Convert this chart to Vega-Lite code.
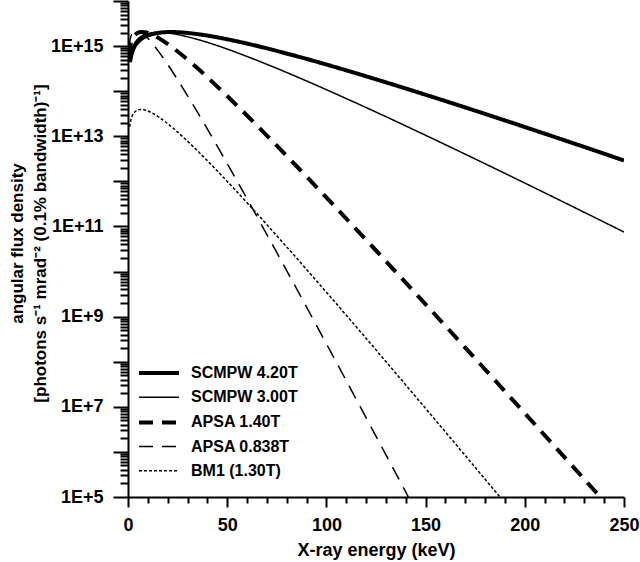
{
  "$schema": "https://vega.github.io/schema/vega-lite/v6.json",
  "width": 496,
  "height": 496,
  "autosize": {"type": "none"},
  "padding": {"left": 128, "top": 1, "right": 16, "bottom": 65},
  "background": "white",
  "config": {"view": {"stroke": null}, "font": "Liberation Sans"},
  "data": {"values": [
    {"s": "SCMPW 4.20T", "E": 1, "F": 4.43e14},
    {"s": "SCMPW 4.20T", "E": 2, "F": 7.03e14},
    {"s": "SCMPW 4.20T", "E": 3, "F": 9.23e14},
    {"s": "SCMPW 4.20T", "E": 5, "F": 1.227e15},
    {"s": "SCMPW 4.20T", "E": 8, "F": 1.56e15},
    {"s": "SCMPW 4.20T", "E": 12, "F": 1.832e15},
    {"s": "SCMPW 4.20T", "E": 16, "F": 1.981e15},
    {"s": "SCMPW 4.20T", "E": 21, "F": 2.051e15},
    {"s": "SCMPW 4.20T", "E": 26, "F": 2.023e15},
    {"s": "SCMPW 4.20T", "E": 31, "F": 1.936e15},
    {"s": "SCMPW 4.20T", "E": 39, "F": 1.738e15},
    {"s": "SCMPW 4.20T", "E": 52, "F": 1.358e15},
    {"s": "SCMPW 4.20T", "E": 65, "F": 1.009e15},
    {"s": "SCMPW 4.20T", "E": 78, "F": 7.21e14},
    {"s": "SCMPW 4.20T", "E": 91, "F": 5.05e14},
    {"s": "SCMPW 4.20T", "E": 104, "F": 3.47e14},
    {"s": "SCMPW 4.20T", "E": 130, "F": 1.57e14},
    {"s": "SCMPW 4.20T", "E": 156, "F": 6.87e13},
    {"s": "SCMPW 4.20T", "E": 182, "F": 2.93e13},
    {"s": "SCMPW 4.20T", "E": 208, "F": 1.225e13},
    {"s": "SCMPW 4.20T", "E": 234, "F": 5.05e12},
    {"s": "SCMPW 4.20T", "E": 250, "F": 2.9e12},
    {"s": "SCMPW 3.00T", "E": 1, "F": 5.48e14},
    {"s": "SCMPW 3.00T", "E": 2, "F": 8.69e14},
    {"s": "SCMPW 3.00T", "E": 3, "F": 1.094e15},
    {"s": "SCMPW 3.00T", "E": 5, "F": 1.443e15},
    {"s": "SCMPW 3.00T", "E": 8, "F": 1.766e15},
    {"s": "SCMPW 3.00T", "E": 11, "F": 1.936e15},
    {"s": "SCMPW 3.00T", "E": 15, "F": 2.014e15},
    {"s": "SCMPW 3.00T", "E": 18.4, "F": 1.986e15},
    {"s": "SCMPW 3.00T", "E": 22, "F": 1.901e15},
    {"s": "SCMPW 3.00T", "E": 27.6, "F": 1.706e15},
    {"s": "SCMPW 3.00T", "E": 36.8, "F": 1.334e15},
    {"s": "SCMPW 3.00T", "E": 46, "F": 9.91e14},
    {"s": "SCMPW 3.00T", "E": 55.2, "F": 7.08e14},
    {"s": "SCMPW 3.00T", "E": 64.4, "F": 4.95e14},
    {"s": "SCMPW 3.00T", "E": 73.6, "F": 3.4e14},
    {"s": "SCMPW 3.00T", "E": 92, "F": 1.542e14},
    {"s": "SCMPW 3.00T", "E": 110.4, "F": 6.74e13},
    {"s": "SCMPW 3.00T", "E": 128.8, "F": 2.88e13},
    {"s": "SCMPW 3.00T", "E": 147.2, "F": 1.202e13},
    {"s": "SCMPW 3.00T", "E": 184, "F": 2.018e12},
    {"s": "SCMPW 3.00T", "E": 220.8, "F": 3.26e11},
    {"s": "SCMPW 3.00T", "E": 250, "F": 7.52e10},
    {"s": "APSA 1.40T", "E": 0.5, "F": 5.86e14},
    {"s": "APSA 1.40T", "E": 1, "F": 9.31e14},
    {"s": "APSA 1.40T", "E": 1.71, "F": 1.256e15},
    {"s": "APSA 1.40T", "E": 2.565, "F": 1.545e15},
    {"s": "APSA 1.40T", "E": 3.42, "F": 1.746e15},
    {"s": "APSA 1.40T", "E": 4.275, "F": 1.883e15},
    {"s": "APSA 1.40T", "E": 5.13, "F": 1.977e15},
    {"s": "APSA 1.40T", "E": 7.1, "F": 2.051e15},
    {"s": "APSA 1.40T", "E": 8.55, "F": 2.023e15},
    {"s": "APSA 1.40T", "E": 12.825, "F": 1.738e15},
    {"s": "APSA 1.40T", "E": 17.1, "F": 1.358e15},
    {"s": "APSA 1.40T", "E": 21.375, "F": 1.009e15},
    {"s": "APSA 1.40T", "E": 25.65, "F": 7.21e14},
    {"s": "APSA 1.40T", "E": 34.2, "F": 3.47e14},
    {"s": "APSA 1.40T", "E": 42.75, "F": 1.57e14},
    {"s": "APSA 1.40T", "E": 51.3, "F": 6.87e13},
    {"s": "APSA 1.40T", "E": 68.4, "F": 1.225e13},
    {"s": "APSA 1.40T", "E": 85.5, "F": 2.056e12},
    {"s": "APSA 1.40T", "E": 102.6, "F": 3.32e11},
    {"s": "APSA 1.40T", "E": 128.25, "F": 2.051e10},
    {"s": "APSA 1.40T", "E": 171, "F": 1.832e8},
    {"s": "APSA 1.40T", "E": 213.75, "F": 1.538e6},
    {"s": "APSA 1.40T", "E": 256.5, "F": 1.242e4},
    {"s": "APSA 0.838T", "E": 0.5, "F": 9.06e14},
    {"s": "APSA 0.838T", "E": 1.012, "F": 1.368e15},
    {"s": "APSA 0.838T", "E": 1.518, "F": 1.682e15},
    {"s": "APSA 0.838T", "E": 2.024, "F": 1.901e15},
    {"s": "APSA 0.838T", "E": 3.036, "F": 2.152e15},
    {"s": "APSA 0.838T", "E": 4.2, "F": 2.234e15},
    {"s": "APSA 0.838T", "E": 5.06, "F": 2.203e15},
    {"s": "APSA 0.838T", "E": 7.59, "F": 1.892e15},
    {"s": "APSA 0.838T", "E": 10.12, "F": 1.479e15},
    {"s": "APSA 0.838T", "E": 12.65, "F": 1.099e15},
    {"s": "APSA 0.838T", "E": 15.18, "F": 7.85e14},
    {"s": "APSA 0.838T", "E": 20.24, "F": 3.78e14},
    {"s": "APSA 0.838T", "E": 25.3, "F": 1.71e14},
    {"s": "APSA 0.838T", "E": 30.36, "F": 7.48e13},
    {"s": "APSA 0.838T", "E": 40.48, "F": 1.334e13},
    {"s": "APSA 0.838T", "E": 50.6, "F": 2.239e12},
    {"s": "APSA 0.838T", "E": 60.72, "F": 3.61e11},
    {"s": "APSA 0.838T", "E": 75.9, "F": 2.234e10},
    {"s": "APSA 0.838T", "E": 101.2, "F": 1.995e8},
    {"s": "APSA 0.838T", "E": 126.5, "F": 1.675e6},
    {"s": "APSA 0.838T", "E": 151.8, "F": 1.352e4},
    {"s": "BM1 (1.30T)", "E": 0.8, "F": 1.622e13},
    {"s": "BM1 (1.30T)", "E": 1.58, "F": 2.416e13},
    {"s": "BM1 (1.30T)", "E": 2.37, "F": 2.97e13},
    {"s": "BM1 (1.30T)", "E": 3.16, "F": 3.36e13},
    {"s": "BM1 (1.30T)", "E": 4.74, "F": 3.8e13},
    {"s": "BM1 (1.30T)", "E": 6.557, "F": 3.94e13},
    {"s": "BM1 (1.30T)", "E": 7.9, "F": 3.89e13},
    {"s": "BM1 (1.30T)", "E": 11.85, "F": 3.34e13},
    {"s": "BM1 (1.30T)", "E": 15.8, "F": 2.61e13},
    {"s": "BM1 (1.30T)", "E": 19.75, "F": 1.941e13},
    {"s": "BM1 (1.30T)", "E": 23.7, "F": 1.387e13},
    {"s": "BM1 (1.30T)", "E": 31.6, "F": 6.67e12},
    {"s": "BM1 (1.30T)", "E": 39.5, "F": 3.02e12},
    {"s": "BM1 (1.30T)", "E": 47.4, "F": 1.321e12},
    {"s": "BM1 (1.30T)", "E": 63.2, "F": 2.355e11},
    {"s": "BM1 (1.30T)", "E": 79, "F": 3.95e10},
    {"s": "BM1 (1.30T)", "E": 94.8, "F": 6.38e9},
    {"s": "BM1 (1.30T)", "E": 118.5, "F": 3.945e8},
    {"s": "BM1 (1.30T)", "E": 158, "F": 3.52e6},
    {"s": "BM1 (1.30T)", "E": 197.5, "F": 2.96e4}
  ]},
  "mark": {"type": "line", "clip": true, "color": "black", "strokeCap": "butt", "interpolate": "monotone"},
  "encoding": {
    "x": {
      "field": "E", "type": "quantitative",
      "scale": {"domain": [0, 250], "nice": false, "zero": false},
      "axis": {
        "values": [0,10,20,30,40,50,60,70,80,90,100,110,120,130,140,150,160,170,180,190,200,210,220,230,240,250],
        "tickSize": {"condition": {"test": "datum.value % 50 == 0", "value": 10}, "value": 6},
        "labelExpr": "datum.value % 50 == 0 ? datum.label : ''",
        "grid": false,
        "domainColor": "black", "domainWidth": 2,
        "tickColor": "black", "tickWidth": 2,
        "labelColor": "black", "labelFontSize": 18, "labelFontWeight": "bold", "labelPadding": 9,
        "labelFlush": false, "labelOverlap": false,
        "title": "X-ray energy (keV)",
        "titleColor": "black", "titleFontSize": 18, "titleFontWeight": "bold", "titlePadding": 7
      }
    },
    "y": {
      "field": "F", "type": "quantitative",
      "scale": {"type": "log", "domain": [1e5, 1e16], "nice": false},
      "axis": {
        "values": [1e5,2e5,3e5,4e5,5e5,6e5,7e5,8e5,9e5,1e6,2e6,3e6,4e6,5e6,6e6,7e6,8e6,9e6,1e7,2e7,3e7,4e7,5e7,6e7,7e7,8e7,9e7,1e8,2e8,3e8,4e8,5e8,6e8,7e8,8e8,9e8,1e9,2e9,3e9,4e9,5e9,6e9,7e9,8e9,9e9,1e10,2e10,3e10,4e10,5e10,6e10,7e10,8e10,9e10,1e11,2e11,3e11,4e11,5e11,6e11,7e11,8e11,9e11,1e12,2e12,3e12,4e12,5e12,6e12,7e12,8e12,9e12,1e13,2e13,3e13,4e13,5e13,6e13,7e13,8e13,9e13,1e14,2e14,3e14,4e14,5e14,6e14,7e14,8e14,9e14,1e15,2e15,3e15,4e15,5e15,6e15,7e15,8e15,9e15,1e16],
        "tickSize": {"condition": {"test": "abs(log(datum.value)/LN10 - round(log(datum.value)/LN10)) < 0.001", "value": 15}, "value": 8},
        "labelExpr": "(abs(log(datum.value)/LN10 - round(log(datum.value)/LN10)) < 0.001 && round(log(datum.value)/LN10) % 2 == 1) ? '1E+' + round(log(datum.value)/LN10) : ''",
        "grid": false,
        "domainColor": "black", "domainWidth": 2,
        "tickColor": "black", "tickWidth": 2,
        "labelColor": "black", "labelFontSize": 18, "labelFontWeight": "bold", "labelPadding": 10,
        "labelFlush": false, "labelOverlap": false,
        "title": ["angular flux density", "[photons s⁻¹ mrad⁻² (0.1% bandwidth)⁻¹]"],
        "titleColor": "black", "titleFontSize": 17, "titleFontWeight": "bold",
        "titleX": -119, "titleY": 242, "titleAngle": 270, "titleBaseline": "top", "titleAlign": "center", "titleLineHeight": 23
      }
    },
    "strokeDash": {
      "field": "s", "type": "nominal",
      "scale": {"domain": ["SCMPW 4.20T", "SCMPW 3.00T", "APSA 1.40T", "APSA 0.838T", "BM1 (1.30T)"],
                "range": [[1, 0], [1, 0], [14, 9], [14, 9], [3, 2]]},
      "legend": {"title": null, "orient": "none", "legendX": 19, "legendY": 360, "symbolType": "M-2,0H2", "symbolSize": 400, "symbolStrokeColor": "black", "labelFontSize": 16, "labelFontWeight": "bold", "labelColor": "black", "labelOffset": 20, "rowPadding": 5.2, "padding": 0}
    },
    "strokeWidth": {
      "field": "s", "type": "nominal",
      "scale": {"type": "ordinal", "domain": ["SCMPW 4.20T", "SCMPW 3.00T", "APSA 1.40T", "APSA 0.838T", "BM1 (1.30T)"],
                "range": [4, 1.5, 4, 1.5, 1.5]},
      "legend": {"title": null, "orient": "none", "legendX": 19, "legendY": 360, "symbolType": "M-2,0H2", "symbolSize": 400, "symbolStrokeColor": "black", "labelFontSize": 16, "labelFontWeight": "bold", "labelColor": "black", "labelOffset": 20, "rowPadding": 5.2, "padding": 0}
    }
  }
}
